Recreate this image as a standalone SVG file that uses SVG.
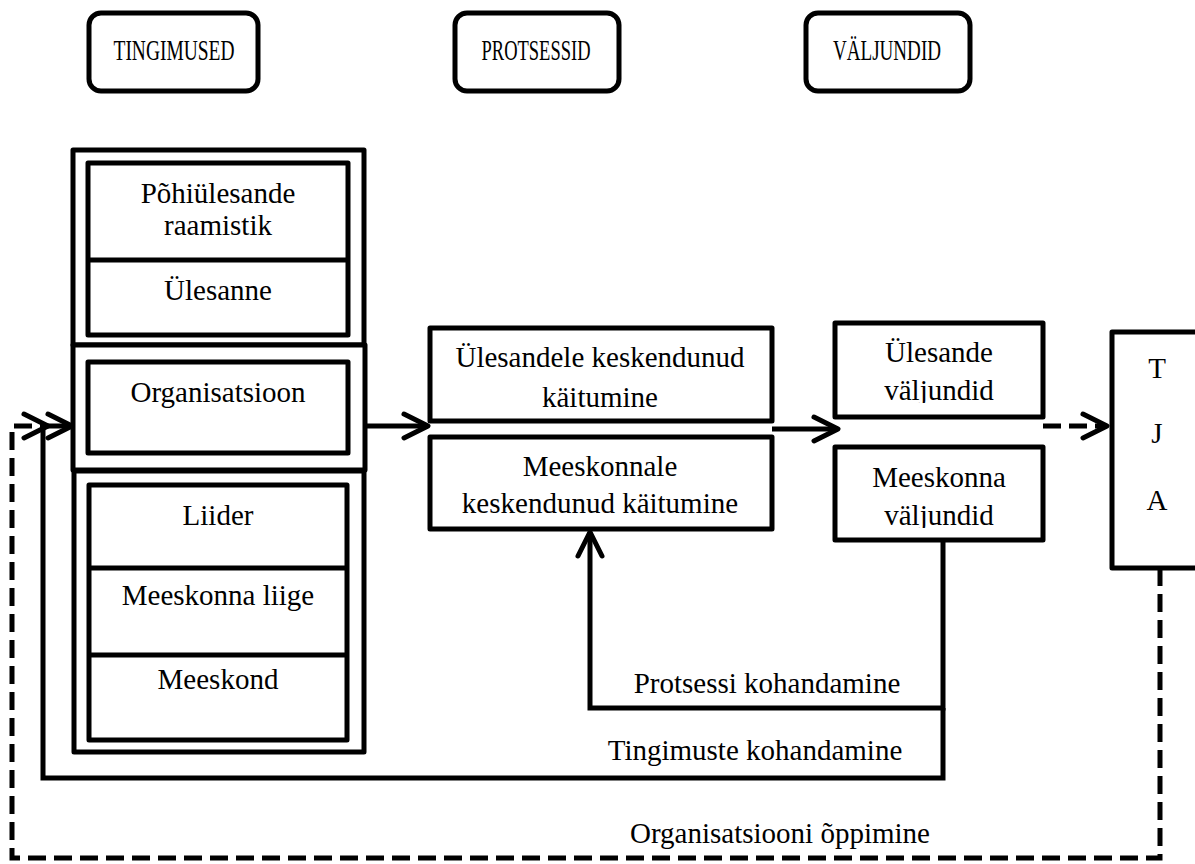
<svg xmlns="http://www.w3.org/2000/svg" width="1195" height="864" viewBox="0 0 1195 864">
<style>
.box{fill:#fff;stroke:#000;stroke-width:5;stroke-linejoin:round}
.hdr{fill:#fff;stroke:#000;stroke-width:5}
.ln{fill:none;stroke:#000;stroke-width:5}
.dash{fill:none;stroke:#000;stroke-width:5;stroke-dasharray:18 8}
text{font-family:"Liberation Serif","Times New Roman",serif;font-size:29px;fill:#000;text-anchor:middle}
text.h{font-size:29px}
</style>
<defs>
<marker id="ah" viewBox="0 0 32 32" refX="28" refY="16" markerWidth="32" markerHeight="32" markerUnits="userSpaceOnUse" orient="auto">
<path d="M4,4 L28,16 L4,28" fill="none" stroke="#000" stroke-width="5" stroke-linecap="round" stroke-linejoin="round" stroke-dasharray="none"/>
</marker>
<clipPath id="c1"><rect x="835" y="320" width="210" height="83"/></clipPath>
<clipPath id="c2"><rect x="835" y="445" width="210" height="83"/></clipPath>
</defs>
<rect width="1195" height="864" fill="#fff"/>

<g id="hdr-tingimused"><rect class="hdr" x="89" y="13" width="169" height="78" rx="12"/><text class="h" x="174" y="60" textLength="121" lengthAdjust="spacingAndGlyphs">TINGIMUSED</text></g>
<g id="hdr-protsessid"><rect class="hdr" x="455" y="13" width="164" height="78" rx="12"/><text class="h" x="536" y="60" textLength="109" lengthAdjust="spacingAndGlyphs">PROTSESSID</text></g>
<g id="hdr-valjundid"><rect class="hdr" x="806" y="13" width="164" height="78" rx="12"/><text class="h" x="887" y="60" textLength="108" lengthAdjust="spacingAndGlyphs">VÄLJUNDID</text></g>

<g id="sec-ulesanne">
<rect class="box" x="73" y="150" width="291" height="195"/>
<rect class="box" x="88" y="163" width="260" height="172"/>
<line class="ln" x1="88" y1="260" x2="348" y2="260"/>
<text x="218" y="203">Põhiülesande</text>
<text x="218" y="235">raamistik</text>
<text x="218" y="300">Ülesanne</text>
</g>
<g id="sec-organisatsioon">
<rect class="box" x="73" y="345" width="292" height="125"/>
<rect class="box" x="88" y="362" width="260" height="91"/>
<text x="218" y="402">Organisatsioon</text>
</g>
<g id="sec-meeskond">
<rect class="box" x="74" y="471" width="290" height="281"/>
<rect class="box" x="89" y="485" width="258" height="255"/>
<line class="ln" x1="89" y1="568" x2="347" y2="568"/>
<line class="ln" x1="89" y1="655" x2="347" y2="655"/>
<text x="218" y="525">Liider</text>
<text x="218" y="605">Meeskonna liige</text>
<text x="218" y="689">Meeskond</text>
</g>

<g id="proc-ulesanne"><rect class="box" x="430" y="328" width="342" height="93"/><text x="600" y="367">Ülesandele keskendunud</text><text x="600" y="407">käitumine</text></g>
<g id="proc-meeskond"><rect class="box" x="430" y="437" width="342" height="92"/><text x="600" y="476">Meeskonnale</text><text x="600" y="513">keskendunud käitumine</text></g>

<g id="out-ulesanne"><rect class="box" x="835" y="323" width="208" height="94"/><g clip-path="url(#c1)"><text x="939" y="362">Ülesande</text><text x="939" y="400">väljundid</text></g></g>
<g id="out-meeskond"><rect class="box" x="835" y="447" width="208" height="93"/><g clip-path="url(#c2)"><text x="939" y="487">Meeskonna</text><text x="939" y="525">väljundid</text></g></g>

<g id="tja"><rect class="box" x="1112" y="332" width="100" height="236"/><text x="1157" y="378">T</text><text x="1157" y="443">J</text><text x="1157" y="510">A</text></g>

<g id="connectors">
<path class="ln" d="M366,426 H428" marker-end="url(#ah)"/>
<path class="ln" d="M772,429 H838" marker-end="url(#ah)"/>
<path class="dash" d="M1043,426 H1107" marker-end="url(#ah)"/>
<path class="ln" d="M943,540 V708 H590 V532" marker-end="url(#ah)"/>
<path class="ln" d="M943,708 V778 H43 V426 H72" marker-end="url(#ah)"/>
<path class="dash" d="M1160,568 V858 H12 V426 H48" marker-end="url(#ah)"/>
<text x="767" y="693">Protsessi kohandamine</text>
<text x="755" y="760">Tingimuste kohandamine</text>
<text x="780" y="843">Organisatsiooni õppimine</text>
</g>
</svg>
